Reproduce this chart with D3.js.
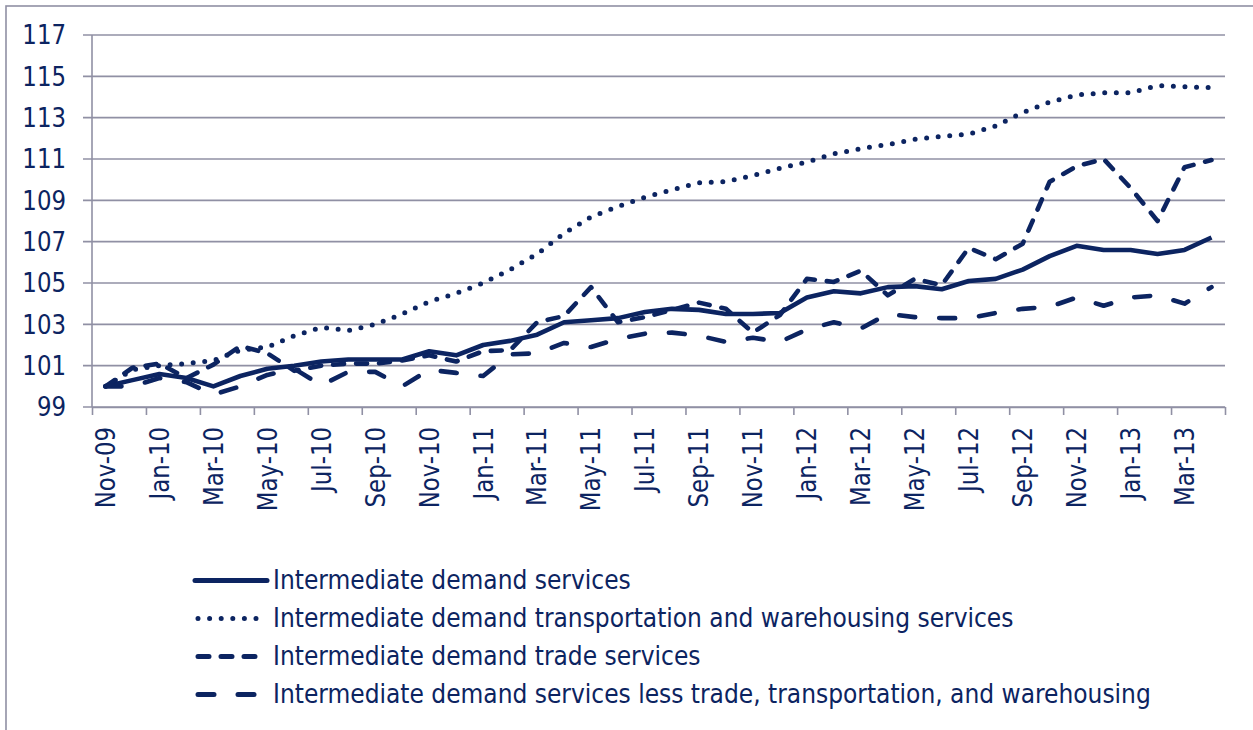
<!DOCTYPE html>
<html>
<head>
<meta charset="utf-8">
<script src="https://cdn.jsdelivr.net/npm/d3@7"></script>
<style>
  body { margin: 0; background: #fff; }
  svg { display: block; }
</style>
</head>
<body>
<svg id="chart"></svg>
<script>
// Months Nov-09 .. Apr-13
let months = ["Nov-09","Dec-09","Jan-10","Feb-10","Mar-10","Apr-10","May-10","Jun-10","Jul-10","Aug-10",
  "Sep-10","Oct-10","Nov-10","Dec-10","Jan-11","Feb-11","Mar-11","Apr-11","May-11","Jun-11",
  "Jul-11","Aug-11","Sep-11","Oct-11","Nov-11","Dec-11","Jan-12","Feb-12","Mar-12","Apr-12",
  "May-12","Jun-12","Jul-12","Aug-12","Sep-12","Oct-12","Nov-12","Dec-12","Jan-13","Feb-13",
  "Mar-13","Apr-13"];
let yTicks = [99, 101, 103, 105, 107, 109, 111, 113, 115, 117];

let seriesNames = [
  "Intermediate demand services",
  "Intermediate demand transportation and warehousing services",
  "Intermediate demand trade services",
  "Intermediate demand services less trade, transportation, and warehousing"
];

let services = [100.0, 100.3, 100.6, 100.4, 100.0, 100.5, 100.85, 101.0, 101.2, 101.3,
  101.3, 101.3, 101.7, 101.5, 102.0, 102.2, 102.5, 103.1, 103.2, 103.3,
  103.6, 103.75, 103.7, 103.5, 103.5, 103.55, 104.3, 104.6, 104.5, 104.8,
  104.85, 104.7, 105.1, 105.2, 105.65, 106.3, 106.8, 106.6, 106.6, 106.4,
  106.6, 107.2];

let transport = [100.0, 100.8, 101.0, 101.1, 101.25, 101.75, 101.9, 102.45, 102.85, 102.7,
  103.0, 103.5, 104.1, 104.5, 105.0, 105.65, 106.4, 107.4, 108.2, 108.7,
  109.15, 109.5, 109.85, 109.9, 110.2, 110.55, 110.85, 111.25, 111.5, 111.7,
  111.95, 112.1, 112.2, 112.6, 113.25, 113.75, 114.1, 114.2, 114.2, 114.55,
  114.5, 114.45];

let trade = [100.0, 100.9, 101.1, 100.4, 101.05, 101.95, 101.6, 100.75, 101.0, 101.1,
  101.1, 101.25, 101.5, 101.2, 101.7, 101.75, 103.1, 103.4, 104.8, 103.1,
  103.35, 103.7, 104.05, 103.75, 102.6, 103.45, 105.2, 105.05, 105.6, 104.4,
  105.2, 104.9, 106.7, 106.15, 106.9, 109.9, 110.65, 111.0, 109.6, 108.0,
  110.6, 110.95];

let lessTrade = [100.0, 100.0, 100.4, 100.2, 99.6, 100.0, 100.55, 100.85, 100.05, 100.7,
  100.7, 100.0, 100.8, 100.65, 100.5, 101.55, 101.6, 102.1, 101.9, 102.3,
  102.55, 102.6, 102.45, 102.15, 102.35, 102.15, 102.75, 103.1, 102.8, 103.5,
  103.35, 103.3, 103.3, 103.55, 103.75, 103.85, 104.3, 103.9, 104.3, 104.4,
  104.0, 104.8];

let allSeries = [services, transport, trade, lessTrade];

// Styles
let navy = "#0c2461";
let gray = "#9090a4";
let dashes = [null, "0,11.6", "11,12", "16,24"];
let fontFam = "'DejaVu Sans', Verdana, sans-serif";
let squeeze = 0.88;
let legendSqueeze = 0.9;

let width = 1253, height = 730;
let mLeft = 92, mRight = 1225, mTop = 35, mBottom = 407;

let svg = d3.select("#chart")
  .attr("width", width)
  .attr("height", height);

// outer frame (runs off the right and bottom edges)
svg.append("rect")
  .attr("x", 6)
  .attr("y", 6)
  .attr("width", 1300)
  .attr("height", 800)
  .attr("fill", "none")
  .attr("stroke", gray)
  .attr("stroke-width", 1.6);

let x = d3.scaleBand()
  .domain(months)
  .range([mLeft, mRight]);
let xEdge = d3.scaleLinear()
  .domain([0, months.length])
  .range([mLeft, mRight]);
let y = d3.scaleLinear()
  .domain([99, 117])
  .range([mBottom, mTop]);

// horizontal gridlines + left ticks
svg.append("g")
  .selectAll("line")
  .data(yTicks)
  .join("line")
    .attr("x1", mLeft - 9)
    .attr("x2", mRight)
    .attr("y1", d => y(d))
    .attr("y2", d => y(d))
    .attr("stroke", gray)
    .attr("stroke-width", 1.6);

// vertical axis line
svg.append("line")
  .attr("x1", mLeft)
  .attr("x2", mLeft)
  .attr("y1", mTop)
  .attr("y2", mBottom)
  .attr("stroke", gray)
  .attr("stroke-width", 1.6);

// bottom axis ticks at every other month boundary
let xAxis = d3.axisBottom(xEdge)
  .tickValues(d3.range(0, months.length + 1, 2))
  .tickSize(8)
  .tickSizeOuter(0)
  .tickFormat("");
svg.append("g")
  .attr("transform", `translate(0, ${mBottom})`)
  .call(xAxis)
  .call(g => g.selectAll("path, line").attr("stroke", gray).attr("stroke-width", 1.6));

// y labels
svg.append("g")
  .selectAll("text")
  .data(yTicks)
  .join("text")
    .attr("transform", d => `translate(66, ${y(d)}) scale(${squeeze}, 1)`)
    .attr("dy", "0.36em")
    .attr("text-anchor", "end")
    .attr("fill", navy)
    .attr("font-family", fontFam)
    .attr("font-size", 26)
    .text(d => d);

// x labels (every other month)
svg.append("g")
  .selectAll("text")
  .data(months.filter((d, i) => i % 2 == 0))
  .join("text")
    .attr("transform", d => `translate(${x(d) + x.bandwidth() / 2}, 427) rotate(-90) scale(${squeeze}, 1)`)
    .attr("dy", "0.36em")
    .attr("text-anchor", "end")
    .attr("fill", navy)
    .attr("font-family", fontFam)
    .attr("font-size", 26)
    .text(d => d);

// series lines
let line = d3.line()
  .x((d, i) => x(months[i]) + x.bandwidth() / 2)
  .y(d => y(d));

svg.append("g")
  .selectAll("path")
  .data(allSeries)
  .join("path")
    .attr("d", d => line(d))
    .attr("fill", "none")
    .attr("stroke", navy)
    .attr("stroke-width", (d, i) => i == 1 ? 5 : 4.6)
    .attr("stroke-linecap", (d, i) => i == 0 ? "butt" : "round")
    .attr("stroke-linejoin", "round")
    .attr("stroke-dasharray", (d, i) => dashes[i]);

// legend
let legend = svg.append("g")
  .selectAll("g")
  .data(seriesNames)
  .join("g")
    .attr("transform", (d, i) => `translate(0, ${589 + 38 * i})`);

legend.append("line")
  .attr("x1", (d, i) => i == 0 ? 195 : 198)
  .attr("x2", 267)
  .attr("y1", -8.5)
  .attr("y2", -8.5)
  .attr("stroke", navy)
  .attr("stroke-width", 5)
  .attr("stroke-linecap", "round")
  .attr("stroke-dasharray", (d, i) => dashes[i]);

legend.append("text")
  .attr("transform", `translate(273, 0) scale(${legendSqueeze}, 1)`)
  .attr("fill", navy)
  .attr("font-family", fontFam)
  .attr("font-size", 26)
  .text(d => d);
</script>
</body>
</html>
